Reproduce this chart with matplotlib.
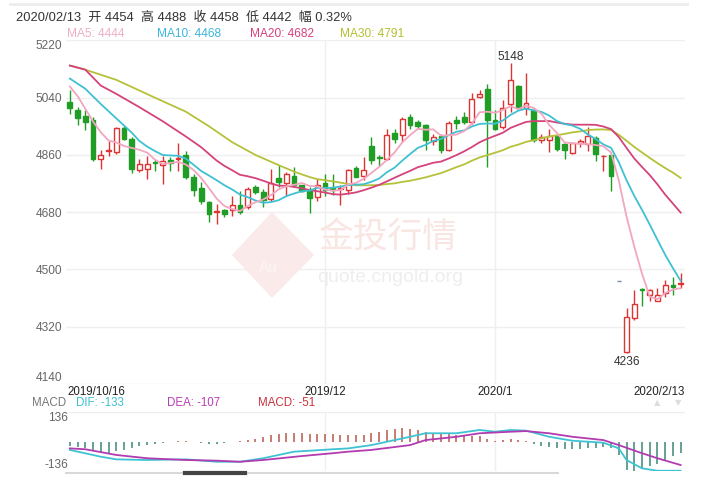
import matplotlib
matplotlib.use('Agg')
import matplotlib.pyplot as plt
import numpy as np
import pandas as pd
from matplotlib.patches import Polygon

plt.rcParams['font.family'] = ['Liberation Sans', 'Noto Sans CJK SC', 'DejaVu Sans']

# ---------------- data ----------------
x_labels = ['2019/10/16', '2019/12', '2020/1', '2020/2/13']
x_label_idx = [0, 33, 55, 79]

opens = [5025, 5001, 4982, 4969, 4848, 4872, 4869, 4945, 4909, 4813,
         4816, 4838, 4827, 4845, 4846, 4861, 4790, 4755, 4711, 4680,
         4687, 4687, 4704, 4697, 4758, 4743, 4721, 4788, 4771, 4795,
         4764, 4748, 4727, 4771, 4755, 4752, 4750, 4820, 4795, 4887,
         4855, 4848, 4929, 4922, 4978, 4964, 4954, 4903, 4919, 4877,
         4971, 4980, 4964, 5043, 5067, 4969, 4948, 5019, 5077, 5006,
         5001, 4908, 4906, 4919, 4893, 4866, 4898, 4895, 4914, 4856,
         4859, 4465, 4240, 4347, 4438, 4421, 4402, 4426, 4451, 4454]
highs = [5064, 5011, 5001, 4980, 4874, 4903, 4948, 4951, 4917, 4848,
         4858, 4845, 4858, 4853, 4899, 4871, 4800, 4774, 4716, 4706,
         4690, 4732, 4748, 4758, 4767, 4753, 4816, 4827, 4806, 4822,
         4767, 4758, 4785, 4801, 4801, 4767, 4816, 4824, 4853, 4917,
         4860, 4943, 4940, 4980, 4990, 4971, 4957, 4925, 4925, 4967,
         4982, 4996, 5056, 5064, 5083, 5001, 5033, 5148, 5080, 5119,
         5006, 4927, 4943, 4922, 4896, 4898, 4911, 4948, 4919, 4860,
         4861, 4465, 4379, 4437, 4441, 4440, 4442, 4468, 4476, 4488]
lows = [4990, 4953, 4938, 4840, 4816, 4858, 4864, 4906, 4804, 4806,
        4783, 4811, 4769, 4811, 4811, 4785, 4732, 4706, 4648, 4642,
        4666, 4669, 4674, 4690, 4737, 4695, 4716, 4758, 4732, 4758,
        4743, 4679, 4716, 4732, 4735, 4704, 4737, 4790, 4782, 4832,
        4824, 4843, 4896, 4901, 4943, 4943, 4874, 4890, 4866, 4872,
        4943, 4957, 4957, 5038, 4822, 4938, 4943, 4996, 5001, 4985,
        4901, 4898, 4869, 4872, 4848, 4864, 4885, 4872, 4841, 4811,
        4748, 4465, 4236, 4342, 4384, 4402, 4400, 4412, 4421, 4442]
closes = [5006, 4977, 4964, 4848, 4861, 4877, 4945, 4911, 4816, 4832,
          4832, 4836, 4840, 4834, 4849, 4790, 4750, 4714, 4674, 4684,
          4674, 4704, 4682, 4753, 4743, 4718, 4771, 4774, 4801, 4767,
          4746, 4725, 4767, 4750, 4750, 4756, 4813, 4792, 4813, 4843,
          4850, 4922, 4911, 4973, 4954, 4950, 4908, 4917, 4874, 4961,
          4959, 4964, 5035, 5052, 4969, 4943, 5006, 5096, 5006, 5024,
          4906, 4916, 4919, 4880, 4874, 4896, 4904, 4919, 4862, 4858,
          4795, 4465, 4352, 4391, 4434, 4434, 4421, 4450, 4444, 4458]

# moving-average values for days whose window starts before the visible range
ma5_head_idx = [0, 1, 2, 3]
ma5_head = [5075, 5045, 5005, 4965]
ma10_head_idx = [0, 2, 4, 6, 8]
ma10_head = [5100, 5068, 5020, 4975, 4930]
ma20_head_idx = [0, 2, 4, 6, 9, 12, 15, 17]
ma20_head = [5141, 5128, 5078, 5052, 5010, 4966, 4918, 4884]
ma30_head_idx = [0, 2, 6, 11, 15, 18, 21, 24, 27]
ma30_head = [5141, 5128, 5096, 5040, 4996, 4950, 4900, 4860, 4828]
ma_legend = [4444, 4468, 4682, 4791]

# MACD panel
dif_idx = [0, 4, 6, 10, 15, 19, 22, 25, 29, 34, 36, 39, 44, 46, 50, 53, 55, 57, 59, 62, 65, 69, 71, 72, 74, 76, 79]
dif_val = [-38, -69, -81, -84, -81, -92, -92, -76, -46, -35, -31, -16, 22, 38, 38, 53, 45, 53, 50, 22, 4, -5, -31, -84, -122, -133, -133]
dea_idx = [0, 2, 6, 10, 15, 19, 22, 25, 30, 34, 36, 39, 44, 46, 50, 53, 57, 59, 62, 65, 69, 71, 74, 76, 79]
dea_val = [-31, -35, -61, -76, -84, -87, -92, -84, -66, -53, -46, -38, -16, 7, 22, 38, 45, 48, 38, 22, 7, -16, -53, -76, -107]
macd_hist = [-22, -24, -28, -40, -48, -50, -45, -38, -30, -22,
             -16, -12, -8, -4, 2, 2, -2, -6, -10, -10,
             -8, -4, 2, 8, 14, 22, 30, 36, 38, 40,
             38, 34, 34, 36, 34, 30, 28, 28, 32, 40,
             46, 52, 56, 60, 58, 54, 46, 40, 34, 36,
             32, 28, 26, 24, 12, 4, 6, 10, 8, 4,
             -12, -20, -26, -30, -34, -34, -32, -28, -28, -24,
             -30, -60, -130, -135, -125, -112, -100, -85, -68, -51]

# ---------------- figure ----------------
W, H = 714, 487
fig = plt.figure(figsize=(W / 100, H / 100), dpi=100)

def fx(px):
    return px / W

def fy(py):
    return 1 - py / H

N = len(closes)
idx = np.arange(N)
o = np.array(opens, float); c = np.array(closes, float)
h = np.array(highs, float); l = np.array(lows, float)

L, R = 66, 684.5
ax = fig.add_axes([fx(L), fy(384), fx(R) - fx(L), fy(40.4) - fy(384)])
ax.set_xlim(-0.5, N - 0.5)
ax.set_ylim(4140, 5220)
yt = np.arange(4140, 5221, 180)
ax.set_yticks(yt)
ax.set_yticklabels([str(v) for v in yt])
ax.tick_params(axis='y', length=0, pad=3, labelsize=8.6, labelcolor='#666666')
labs = ax.get_yticklabels()
labs[0].set_va('bottom')
labs[-1].set_va('top')
ax.set_xticks([])
for s in ax.spines.values():
    s.set_visible(False)
for v in yt:
    ax.axhline(v, color='#efefef', lw=1, zorder=0)
for i in [33, 55]:
    ax.axvline(i, color='#efefef', lw=1, zorder=0)

# watermark
wm_c = '#faeaea'
fig.patches.append(Polygon([[fx(272), fy(212)], [fx(314), fy(255)], [fx(272), fy(298)], [fx(232), fy(255)]],
                           closed=True, transform=fig.transFigure, facecolor=wm_c, edgecolor='none', zorder=0))
fig.text(fx(268), fy(268), 'Au', color='#fdf5f5', fontsize=11, ha='center', va='center', zorder=0.5)
fig.text(fx(388), fy(238), '金投行情', color='#f9e5e2', fontsize=25, ha='center', va='center',
         family=['Noto Sans CJK SC'], zorder=0.5)
fig.text(fx(390), fy(278), 'quote.cngold.org', color='#eeeeee', fontsize=14, ha='center', va='center', zorder=0.5)

up_c = '#dd3333'
dn_c = '#1f9d24'
bw = 0.62
for i in range(N):
    up = c[i] >= o[i]
    col = up_c if up else dn_c
    lo_b, hi_b = min(o[i], c[i]), max(o[i], c[i])
    ax.vlines(i, l[i], lo_b, color=col, lw=1, zorder=2)
    ax.vlines(i, hi_b, h[i], color=col, lw=1, zorder=2)
    if h[i] == l[i]:
        ax.hlines(o[i], i - 0.25, i + 0.25, color='#7a8aa0', lw=1, zorder=3)
        continue
    ax.bar(i, max(hi_b - lo_b, 0.5), bottom=lo_b, width=bw,
           facecolor='white' if up else dn_c, edgecolor=col, lw=1, zorder=3)

cs = pd.Series(c)
ma_cols = {5: '#f2a6c0', 10: '#3fc0d3', 20: '#d4437c', 30: '#b6c13a'}
heads = {5: (ma5_head_idx, ma5_head), 10: (ma10_head_idx, ma10_head),
         20: (ma20_head_idx, ma20_head), 30: (ma30_head_idx, ma30_head)}
for n in [30, 20, 10, 5]:
    roll = cs.rolling(n).mean()
    hi_idx, hv = heads[n]
    xs = list(hi_idx) + list(idx[n - 1:])
    ys = list(hv) + list(roll.values[n - 1:])
    ax.plot(xs, ys, color=ma_cols[n], lw=1.3, zorder=4)

ax.text(57, h[57] + 19, '%d' % h[57], ha='center', va='center', fontsize=8.6, color='#333333', zorder=5)
ax.text(72, l[72] - 28, '%d' % l[72], ha='center', va='center', fontsize=8.6, color='#333333', zorder=5)

# x labels
fig.text(fx(67), fy(392), x_labels[0], ha='left', va='center', fontsize=8.3, color='#222222')
for k in [1, 2]:
    fig.text(fx(L + (x_label_idx[k] + 0.5) * (R - L) / N), fy(392), x_labels[k], ha='center', va='center',
             fontsize=8.3, color='#222222')
fig.text(fx(685), fy(392), x_labels[3], ha='right', va='center', fontsize=8.3, color='#222222')

# header
fig.text(fx(16), fy(18), '2020/02/13  开 %d  高 %d  收 %d  低 %d  幅 0.32%%' % (opens[-1], highs[-1], closes[-1], lows[-1]),
         ha='left', va='center', fontsize=9.3, color='#333333')
leg_txt_col = {5: '#eeaec8', 10: '#3cb6d8', 20: '#d83f7c', 30: '#b3bf30'}
for n, xp, val in zip([5, 10, 20, 30], [67, 157, 250, 340], ma_legend):
    fig.text(fx(xp), fy(34), 'MA%d: %d' % (n, val), ha='left', va='center', fontsize=8.6, color=leg_txt_col[n])

fig.add_artist(plt.Line2D([fx(10), fx(687)], [fy(4), fy(4)], color='#ececec', lw=2))

# ---------------- MACD ----------------
ax2 = fig.add_axes([fx(L), fy(471.4), fx(R) - fx(L), fy(411.8) - fy(471.4)])
ax2.set_xlim(-0.5, N - 0.5)
ax2.set_ylim(-136, 136)
ax2.set_xticks([]); ax2.set_yticks([])
for s in ax2.spines.values():
    s.set_visible(False)
ax2.axhline(136, color='#efefef', lw=1, zorder=0)
for i in [33, 55]:
    ax2.axvline(i, color='#efefef', lw=1, zorder=0)
hist = np.array(macd_hist, float)
ax2.vlines(idx, 0, hist, colors=np.where(hist >= 0, '#b5584a', '#3f8678'), lw=1.1, zorder=2)
ax2.plot(dif_idx, dif_val, color='#3ec3d3', lw=1.3, zorder=3)
ax2.plot(dea_idx, dea_val, color='#b23bb0', lw=1.3, zorder=3)

fig.text(fx(32), fy(403.5), 'MACD', ha='left', va='center', fontsize=8.3, color='#777777')
fig.text(fx(76), fy(403.5), 'DIF: %d' % dif_val[-1], ha='left', va='center', fontsize=8.3, color='#3cc0d0')
fig.text(fx(167), fy(403.5), 'DEA: %d' % dea_val[-1], ha='left', va='center', fontsize=8.3, color='#b83cb4')
fig.text(fx(258), fy(403.5), 'MACD: %d' % macd_hist[-1], ha='left', va='center', fontsize=8.3, color='#c8323c')
fig.text(fx(68), fy(418), '136', ha='right', va='center', fontsize=8.6, color='#666666')
fig.text(fx(68), fy(465), '-136', ha='right', va='center', fontsize=8.6, color='#666666')
fig.text(fx(657), fy(403), '▲', ha='center', va='center', fontsize=6, color='#dddddd', family=['DejaVu Sans'])
fig.text(fx(678), fy(403), '▼', ha='center', va='center', fontsize=6, color='#dddddd', family=['DejaVu Sans'])

# scroll bar
fig.add_artist(plt.Line2D([fx(66), fx(558)], [fy(473), fy(473)], color='#d8d8d8', lw=1.5))
fig.add_artist(plt.Line2D([fx(185), fx(245)], [fy(473), fy(473)], color='#444444', lw=3))

fig.savefig('out.png', dpi=100, facecolor='white')
